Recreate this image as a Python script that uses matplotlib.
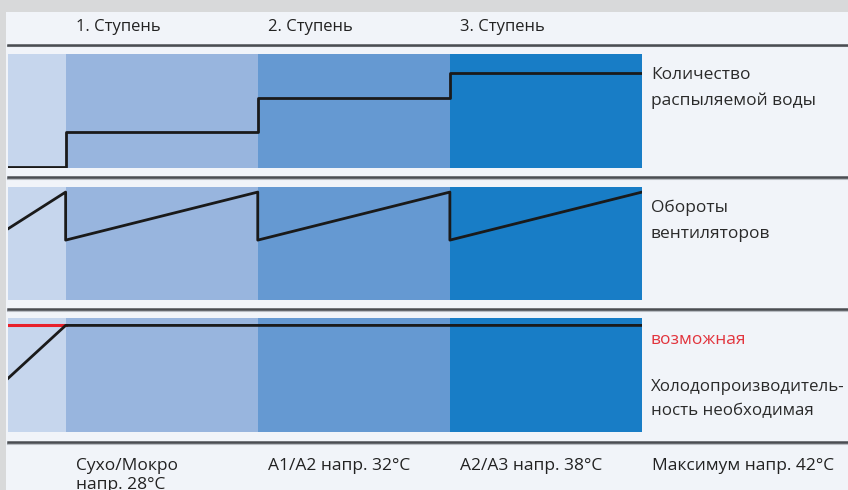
import matplotlib.pyplot as plt
from matplotlib.patches import Rectangle

# Chart data
stages = ['1. Ступень', '2. Ступень', '3. Ступень']
bottom_labels = ['Сухо/Мокро\nнапр. 28°C', 'A1/A2 напр. 32°C',
                 'A2/A3 напр. 38°C', 'Максимум напр. 42°C']
row_labels = ['Количество\nраспыляемой воды', 'Обороты\nвентиляторов']
edges = [-0.3, 0, 1, 2, 3]
zone_colors = ['#c6d6ed', '#98b5de', '#6599d2', '#187dc6']

water_x = [-0.3, 0, 1, 2, 3]
water_y = [0.01, 0.32, 0.61, 0.83, 0.83]

fan_x = [-0.3, 0, 0, 1, 1, 2, 2, 3]
fan_y = [0.63, 0.955, 0.53, 0.955, 0.53, 0.955, 0.53, 0.955]

possible_x = [-0.3, 0]
possible_y = [0.935, 0.935]
needed_x = [-0.3, 0, 3]
needed_y = [0.47, 0.935, 0.935]

W, H = 848, 490
plt.rcParams['font.family'] = ['Open Sans', 'DejaVu Sans']

fig = plt.figure(figsize=(W / 100, H / 100), dpi=100, facecolor='#d8d9da')


def px_axes(x0, y0, x1, y1):
    return fig.add_axes([x0 / W, 1 - y1 / H, (x1 - x0) / W, (y1 - y0) / H])


def stage_px(i):
    # left pixel of a stage column
    return 66 + 192 * i


# light panel behind everything
fig.patches.append(Rectangle((6 / W, 0), 1, 1 - 12 / H, transform=fig.transFigure,
                             facecolor='#f1f4f9', edgecolor='none', zorder=-5))

# separator lines
for y in [45, 177, 309, 442]:
    fig.add_artist(plt.Line2D([8 / W, 1], [1 - (y + 1.5) / H] * 2, color='#b8bcc2', lw=1.5))
    fig.add_artist(plt.Line2D([8 / W, 1], [1 - y / H] * 2, color='#4a4d52', lw=1.8))

panels = [(54, 168), (187, 300), (318, 432)]
axes = []
for y0, y1 in panels:
    ax = px_axes(8, y0, 642, y1)
    for k in range(4):
        ax.axvspan(edges[k], edges[k + 1], color=zone_colors[k], lw=0)
    ax.set_xlim(-0.3, 3)
    ax.set_ylim(0, 1)
    ax.axis('off')
    axes.append(ax)

axes[0].plot(water_x, water_y, drawstyle='steps-post', color='#1a1a1a', lw=2)
axes[1].plot(fan_x, fan_y, color='#1a1a1a', lw=2)
axes[2].plot(possible_x, possible_y, color='#e8202a', lw=2.2, zorder=3)
axes[2].plot(needed_x, needed_y, color='#1a1a1a', lw=2, zorder=4)

# stage titles
for i, s in enumerate(stages):
    fig.text((stage_px(i) + 10) / W, 1 - 27 / H, s, fontsize=12, va='center',
             color='#222222')

# temperatures
for i, s in enumerate(bottom_labels):
    fig.text((stage_px(i) + 10) / W, 1 - 458 / H, s, fontsize=12.5, va='top',
             color='#222222', linespacing=1.25)

# row descriptions
fig.text(651 / W, 1 - 88 / H, row_labels[0], fontsize=12.5, va='center',
         color='#2a2a2a', linespacing=1.8)
fig.text(651 / W, 1 - 221 / H, row_labels[1], fontsize=12.5, va='center',
         color='#2a2a2a', linespacing=1.8)
fig.text(651 / W, 1 - 340 / H, 'возможная', fontsize=12.5, va='center',
         color='#e2343d')
fig.text(651 / W, 1 - 399 / H, 'Холодопроизводитель-\nность необходимая',
         fontsize=12.2, va='center', color='#2a2a2a', linespacing=1.75)

fig.savefig('out.png', dpi=100, facecolor=fig.get_facecolor())
